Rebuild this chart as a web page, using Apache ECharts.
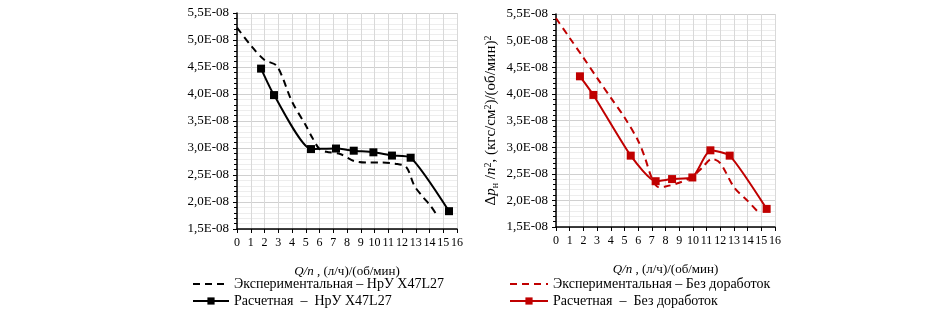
<!DOCTYPE html>
<html>
<head>
<meta charset="utf-8">
<script src="https://cdn.jsdelivr.net/npm/echarts@6/dist/echarts.min.js"></script>
<style>
  html, body { margin: 0; padding: 0; background: #fff; }
  #chart { width: 945px; height: 317px; }
</style>
</head>
<body>
<div id="chart"></div>
<script>
// значения по оси Y в единицах 1E-08
var xTicks = [0, 1, 2, 3, 4, 5, 6, 7, 8, 9, 10, 11, 12, 13, 14, 15, 16];
var yTicks = ['1,5E-08', '2,0E-08', '2,5E-08', '3,0E-08', '3,5E-08', '4,0E-08', '4,5E-08', '5,0E-08', '5,5E-08'];

// НрУ X47L27
var expX1 = [0, 1, 2, 2.9, 4, 5, 5.5, 6, 6.5, 7.5, 8.5, 9.5, 10.5, 11.5, 12.3, 12.9, 13.5, 14.1, 14.5];
var expY1 = [5.23, 4.9, 4.63, 4.52, 3.86, 3.42, 3.18, 2.98, 2.93, 2.89, 2.76, 2.73, 2.73, 2.71, 2.65, 2.3, 2.1, 1.92, 1.77];
var calcX1 = [1.75, 2.69, 5.38, 7.2, 8.49, 9.92, 11.27, 12.63, 15.42];
var calcY1 = [4.47, 3.98, 2.98, 2.99, 2.95, 2.92, 2.86, 2.82, 1.83];

// Без доработок
var expX2 = [0, 1, 2, 3, 4, 5, 6, 6.5, 7, 7.5, 8, 9, 10, 10.7, 11.4, 12, 13, 14, 14.7];
var expY2 = [5.42, 5.05, 4.68, 4.3, 3.93, 3.56, 3.12, 2.8, 2.42, 2.25, 2.26, 2.33, 2.45, 2.62, 2.78, 2.7, 2.25, 1.99, 1.8];
var calcX2 = [1.75, 2.73, 5.46, 7.28, 8.48, 9.96, 11.28, 12.69, 15.39];
var calcY2 = [4.33, 3.98, 2.84, 2.36, 2.40, 2.43, 2.94, 2.84, 1.84];

function pairs(xs, ys) {
  var res = [];
  for (var i = 0; i < xs.length; i++) {
    res.push([xs[i], ys[i]]);
  }
  return res;
}

var font = '"Liberation Serif", "DejaVu Serif", serif';
var myChart = echarts.init(document.getElementById('chart'));

function xAxisOpt(gridIndex) {
  return {
    type: 'value',
    gridIndex: gridIndex,
    min: xTicks[0],
    max: xTicks[xTicks.length - 1],
    interval: 1,
    name: '{i|Q/n} , (л/ч)/(об/мин)',
    nameLocation: 'middle',
    nameGap: 36,
    nameTextStyle: {
      fontFamily: font, fontSize: 13, color: '#000',
      rich: { i: { fontFamily: font, fontSize: 13, fontStyle: 'italic', color: '#000' } }
    },
    axisLine: { onZero: false, lineStyle: { color: '#000', width: 1.5 } },
    axisTick: { show: true, length: 4, lineStyle: { color: '#000' } },
    axisLabel: {
      interval: 0, hideOverlap: false, margin: 8,
      fontFamily: font, fontSize: 12, color: '#000',
      formatter: function (v) { return String(v); }
    },
    splitLine: { show: true, lineStyle: { color: '#d9d9d9', width: 1 } }
  };
}

function yAxisOpt(gridIndex, withName) {
  var ax = {
    type: 'value',
    gridIndex: gridIndex,
    min: 1.5,
    max: 5.5,
    interval: 0.5,
    axisLine: { show: true, lineStyle: { color: '#000', width: 1.5 } },
    axisTick: { show: true, length: 4, lineStyle: { color: '#000' } },
    minorTick: { show: true, splitNumber: 5, length: 3, lineStyle: { color: '#000' } },
    axisLabel: {
      margin: 8, fontFamily: font, fontSize: 13, color: '#000',
      formatter: function (v) {
        var idx = Math.round((v - 1.5) / 0.5);
        return yTicks[idx];
      }
    },
    splitLine: { show: true, lineStyle: { color: '#d0d0d0', width: 1 } },
    minorSplitLine: { show: true, lineStyle: { color: '#ededed', width: 1 } }
  };
  if (withName) {
    ax.name = 'Δ{i|p}{sub|н} /{i|n}{sup|2}, (кгс/см{sup|2})/(об/мин){sup|2}';
    ax.nameLocation = 'middle';
    ax.nameRotate = 90;
    ax.nameGap = 56;
    ax.nameTextStyle = {
      fontFamily: font, fontSize: 15, color: '#000',
      rich: {
        i: { fontFamily: font, fontSize: 15, fontStyle: 'italic', color: '#000' },
        sub: { fontFamily: font, fontSize: 10, color: '#000', verticalAlign: 'bottom', padding: [7, 0, 0, 0] },
        sup: { fontFamily: font, fontSize: 10, color: '#000', verticalAlign: 'top', padding: [0, 0, 7, 0] }
      }
    };
  }
  return ax;
}

function expSeries(name, idx, color, xs, ys) {
  return {
    name: name,
    type: 'line',
    xAxisIndex: idx,
    yAxisIndex: idx,
    smooth: 0.3,
    symbol: 'none',
    lineStyle: { color: color, width: 2, type: [7, 5] },
    itemStyle: { color: color },
    data: pairs(xs, ys)
  };
}

function calcSeries(name, idx, color, xs, ys) {
  return {
    name: name,
    type: 'line',
    xAxisIndex: idx,
    yAxisIndex: idx,
    smooth: 0.2,
    symbol: 'rect',
    symbolSize: 8,
    lineStyle: { color: color, width: 2 },
    itemStyle: { color: color },
    data: pairs(xs, ys)
  };
}

var black = '#000000';
var red = '#c00000';
var legendText = { fontFamily: font, fontSize: 14, color: '#000' };

myChart.setOption({
  animation: false,
  grid: [
    { left: 237, top: 13, width: 220, height: 216 },
    { left: 556, top: 14, width: 219, height: 213 }
  ],
  xAxis: [xAxisOpt(0), xAxisOpt(1)],
  yAxis: [yAxisOpt(0, false), yAxisOpt(1, true)],
  legend: [
    {
      left: 187, top: 272, orient: 'vertical', itemWidth: 36, itemHeight: 9, itemGap: 3,
      textStyle: legendText,
      data: [
        { name: 'Экспериментальная – НрУ X47L27', itemStyle: { opacity: 0 } },
        'Расчетная  –  НрУ X47L27'
      ]
    },
    {
      left: 504, top: 272, orient: 'vertical', itemWidth: 38, itemHeight: 9, itemGap: 3,
      textStyle: legendText,
      data: [
        { name: 'Экспериментальная – Без доработок', itemStyle: { opacity: 0 } },
        'Расчетная  –  Без доработок'
      ]
    }
  ],
  series: [
    expSeries('Экспериментальная – НрУ X47L27', 0, black, expX1, expY1),
    calcSeries('Расчетная  –  НрУ X47L27', 0, black, calcX1, calcY1),
    expSeries('Экспериментальная – Без доработок', 1, red, expX2, expY2),
    calcSeries('Расчетная  –  Без доработок', 1, red, calcX2, calcY2)
  ]
});
</script>
</body>
</html>
